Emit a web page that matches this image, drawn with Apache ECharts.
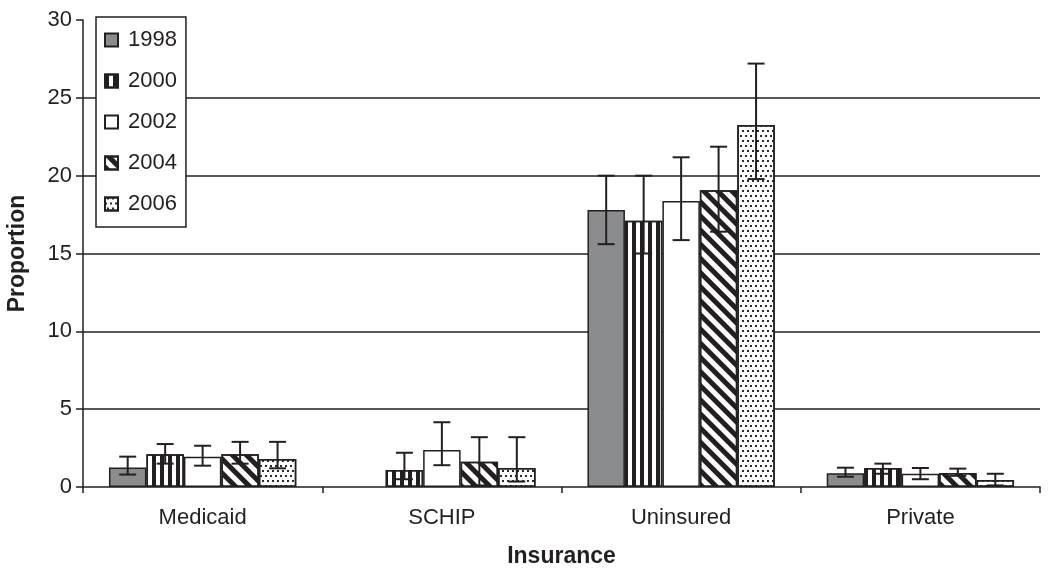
<!DOCTYPE html>
<html>
<head>
<meta charset="utf-8">
<script src="https://cdn.jsdelivr.net/npm/echarts@6/dist/echarts.min.js"></script>
<style>html,body{margin:0;padding:0;background:#fff}#c{width:1050px;height:572px}</style>
</head>
<body>
<div id="c"></div>
<script>
const categories = ['Medicaid', 'SCHIP', 'Uninsured', 'Private'];
const years = ['1998', '2000', '2002', '2004', '2006'];
const yTicks = [0, 5, 10, 15, 20, 25, 30];

const v1998 = [1.25, null, 17.8, 0.88];
const v2000 = [2.1, 1.1, 17.1, 1.22];
const v2002 = [1.95, 2.38, 18.37, 0.85];
const v2004 = [2.1, 1.62, 19.07, 0.9];
const v2006 = [1.8, 1.22, 23.25, 0.45];

const lo1998 = [0.8, null, 15.6, 0.66];
const hi1998 = [1.95, null, 20.0, 1.24];
const lo2000 = [1.5, 0.5, 15.0, 0.85];
const hi2000 = [2.76, 2.2, 20.0, 1.5];
const lo2002 = [1.37, 1.4, 15.86, 0.5];
const hi2002 = [2.65, 4.16, 21.18, 1.22];
const lo2004 = [1.5, 0.1, 16.4, 0.72];
const hi2004 = [2.9, 3.2, 21.86, 1.18];
const lo2006 = [1.2, 0.35, 19.78, 0.1];
const hi2006 = [2.9, 3.2, 27.2, 0.85];

const values = [v1998, v2000, v2002, v2004, v2006];
const lows = [lo1998, lo2000, lo2002, lo2004, lo2006];
const highs = [hi1998, hi2000, hi2002, hi2004, hi2006];

const INK = '#231f20';
const FONT = '"Liberation Sans", Arial, sans-serif';
const GAP = 0.217;

const styles = [
  { color: '#8b8c8e' },
  { color: '#ffffff', decal: { symbol: 'rect', symbolSize: 1, color: INK, dashArrayX: [3.2, 3.1], dashArrayY: [1, 0] } },
  { color: '#ffffff' },
  { color: '#ffffff', decal: { symbol: 'rect', symbolSize: 1, color: INK, dashArrayX: [4.5, 4.2], dashArrayY: [1, 0], rotation: -Math.PI / 4 } },
  { color: '#ffffff', decal: { symbol: 'rect', symbolSize: 1, color: '#2a2a2a', dashArrayX: [[1.6, 2.4], [0, 2, 1.6, 0.4]], dashArrayY: [1.6, 2.2] } }
];

const series = [];
years.forEach((y, k) => {
  series.push({
    name: y,
    type: 'bar',
    data: values[k],
    barGap: '0%',
    barCategoryGap: (GAP * 100) + '%',
    itemStyle: Object.assign({ borderColor: INK, borderWidth: 1.5 }, styles[k]),
    emphasis: { disabled: true },
    z: 2
  });
});
years.forEach((y, k) => {
  const d = [];
  categories.forEach((c, i) => {
    if (lows[k][i] != null) d.push([i, lows[k][i], highs[k][i]]);
  });
  series.push({
    type: 'custom',
    data: d,
    encode: { x: 0, y: [1, 2] },
    z: 5,
    silent: true,
    renderItem: function (params, api) {
      const ci = api.value(0), lo = api.value(1), hi = api.value(2);
      const band = api.size([1, 0])[0];
      const bw = band * (1 - GAP) / 5;
      const cx = api.coord([ci, 0])[0] + (k - 2) * bw;
      const yh = api.coord([ci, hi])[1];
      const yl = api.coord([ci, lo])[1];
      const cap = 8.5;
      const st = { stroke: INK, lineWidth: 2 };
      return {
        type: 'group',
        children: [
          { type: 'line', shape: { x1: cx, y1: yh, x2: cx, y2: yl }, style: st },
          { type: 'line', shape: { x1: cx - cap, y1: yh, x2: cx + cap, y2: yh }, style: st },
          { type: 'line', shape: { x1: cx - cap, y1: yl, x2: cx + cap, y2: yl }, style: st }
        ]
      };
    }
  });
});

const chart = echarts.init(document.getElementById('c'), null, { renderer: 'canvas' });
chart.setOption({
  animation: false,
  backgroundColor: '#fff',
  grid: { left: 83, right: 10, top: 20, bottom: 85, containLabel: false, outerBoundsMode: 'none' },
  legend: {
    data: years,
    orient: 'vertical',
    left: 96,
    top: 17,
    padding: [12, 9, 12, 8],
    itemGap: 19,
    itemWidth: 13,
    itemHeight: 13,
    itemTextGap: 10,
    icon: 'rect',
    backgroundColor: '#fff',
    borderColor: INK,
    borderWidth: 1.5,
    textStyle: { fontFamily: FONT, fontSize: 22, color: INK, padding: [0, 0, 0, 5] },
    selectedMode: false
  },
  xAxis: {
    type: 'category',
    data: categories,
    name: 'Insurance',
    nameLocation: 'middle',
    nameGap: 58,
    nameTextStyle: { fontFamily: FONT, fontSize: 23, fontWeight: 'bold', color: INK },
    axisLine: { lineStyle: { color: INK, width: 1.5 } },
    axisTick: { show: true, length: 6, lineStyle: { color: INK, width: 1.5 } },
    axisLabel: { fontFamily: FONT, fontSize: 22, color: INK, margin: 20 }
  },
  yAxis: {
    type: 'value',
    min: yTicks[0],
    max: yTicks[yTicks.length - 1],
    interval: 5,
    name: 'Proportion',
    nameLocation: 'middle',
    nameGap: 54,
    nameTextStyle: { fontFamily: FONT, fontSize: 23, fontWeight: 'bold', color: INK },
    axisLine: { show: true, lineStyle: { color: INK, width: 1.5 } },
    axisTick: { show: true, length: 7, lineStyle: { color: INK, width: 1.5 } },
    axisLabel: { fontFamily: FONT, fontSize: 22, color: INK, margin: 11 },
    splitLine: { show: true, showMinLine: false, showMaxLine: false, lineStyle: { color: INK, width: 1.5 } }
  },
  series: series
});
</script>
</body>
</html>
